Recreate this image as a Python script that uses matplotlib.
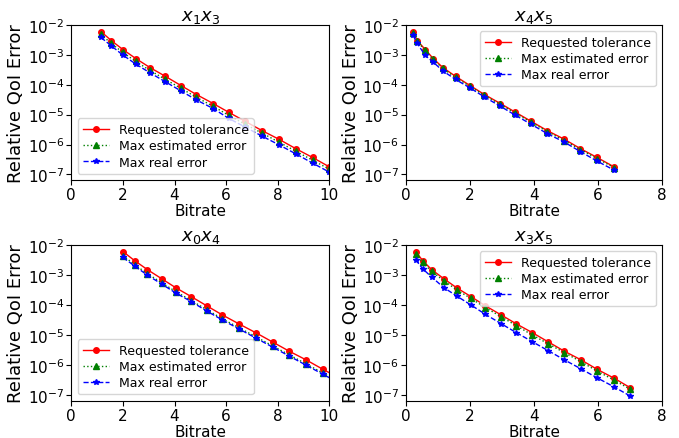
import numpy as np
import matplotlib
matplotlib.use('Agg')
import matplotlib.pyplot as plt

titles = ['$x_1x_3$', '$x_4x_5$', '$x_0x_4$', '$x_3x_5$']
xmax = [10, 8, 10, 8]
legend_loc = ['lower left', 'upper right', 'lower left', 'upper right']

tol = [6e-3, 3e-3, 1.5e-3, 7.5e-4, 3.75e-4, 1.9e-4, 9.4e-5, 4.7e-5, 2.35e-5,
       1.2e-5, 5.9e-6, 2.9e-6, 1.5e-6, 7.3e-7, 3.7e-7, 1.8e-7]

# x1x3
br_13 = [1.15, 1.55, 2.0, 2.5, 3.05, 3.65, 4.25, 4.85, 5.5, 6.1, 6.75, 7.4, 8.05, 8.7, 9.35, 10.0]
est_13 = [4.8e-3, 2.4e-3, 1.2e-3, 6.0e-4, 3.0e-4, 1.5e-4, 7.6e-5, 3.8e-5, 1.9e-5,
          9.5e-6, 4.7e-6, 2.4e-6, 1.2e-6, 6.0e-7, 3.0e-7, 1.5e-7]
real_13 = [3.8e-3, 2.0e-3, 9.8e-4, 4.9e-4, 2.5e-4, 1.25e-4, 6.2e-5, 3.1e-5, 1.6e-5,
           7.5e-6, 3.8e-6, 1.9e-6, 9.8e-7, 4.9e-7, 2.4e-7, 1.2e-7]

# x4x5
br_45 = [0.22, 0.35, 0.6, 0.85, 1.15, 1.55, 2.0, 2.45, 2.95, 3.42, 3.92, 4.42, 4.95, 5.45, 5.97, 6.5]
est_45 = [5.2e-3, 2.8e-3, 1.4e-3, 7.0e-4, 3.5e-4, 1.75e-4, 8.8e-5, 4.4e-5, 2.2e-5,
          1.1e-5, 5.5e-6, 2.7e-6, 1.35e-6, 6.8e-7, 3.4e-7, 1.7e-7]
real_45 = [4.5e-3, 2.4e-3, 9.5e-4, 5.7e-4, 2.9e-4, 1.5e-4, 7.8e-5, 3.9e-5, 1.9e-5,
           9.5e-6, 4.7e-6, 2.3e-6, 1.2e-6, 5.8e-7, 2.8e-7, 1.4e-7]

# x0x4
br_04 = [2.0, 2.45, 2.95, 3.5, 4.05, 4.65, 5.25, 5.85, 6.5, 7.15, 7.8, 8.45, 9.1, 9.75, 10.4, 11.05]
est_04 = [4.4e-3, 2.2e-3, 1.1e-3, 5.5e-4, 2.8e-4, 1.4e-4, 7.0e-5, 3.5e-5, 1.75e-5,
          8.8e-6, 4.4e-6, 2.2e-6, 1.1e-6, 5.5e-7, 2.7e-7, 1.35e-7]
real_04 = [3.8e-3, 2.0e-3, 9.8e-4, 5.0e-4, 2.5e-4, 1.3e-4, 6.3e-5, 3.2e-5, 1.6e-5,
           8.0e-6, 4.0e-6, 2.0e-6, 1.0e-6, 5.0e-7, 2.5e-7, 1.2e-7]

# x3x5
br_35 = [0.3, 0.52, 0.8, 1.18, 1.58, 2.03, 2.48, 2.97, 3.45, 3.95, 4.45, 4.95, 5.47, 5.97, 6.5, 7.0]
est_35 = [5.0e-3, 2.6e-3, 1.3e-3, 6.5e-4, 3.2e-4, 1.65e-4, 8.2e-5, 4.1e-5, 2.05e-5,
          1.0e-5, 5.1e-6, 2.6e-6, 1.3e-6, 6.4e-7, 3.2e-7, 1.6e-7]
real_35 = [3.2e-3, 1.6e-3, 8.5e-4, 3.8e-4, 2.0e-4, 1.0e-4, 4.9e-5, 2.4e-5, 1.2e-5,
           6.0e-6, 3.0e-6, 1.5e-6, 7.5e-7, 3.8e-7, 1.9e-7, 9.5e-8]

bitrates = [br_13, br_45, br_04, br_35]
estimated = [est_13, est_45, est_04, est_35]
real = [real_13, real_45, real_04, real_35]

fig = plt.figure(figsize=(6.79, 4.39), dpi=100)
boxes = [[0.105, 0.588, 0.380, 0.353], [0.598, 0.588, 0.377, 0.353],
         [0.105, 0.085, 0.380, 0.355], [0.598, 0.085, 0.377, 0.355]]

for i in range(4):
    ax = fig.add_axes(boxes[i])
    ax.plot(bitrates[i], tol, color='red', linestyle='-', marker='o', markersize=4,
            linewidth=1, label='Requested tolerance')
    ax.plot(bitrates[i], estimated[i], color='green', linestyle=':', marker='^', markersize=4,
            linewidth=1, label='Max estimated error')
    ax.plot(bitrates[i], real[i], color='blue', linestyle='--', marker='*', markersize=4,
            linewidth=1, label='Max real error')
    ax.set_yscale('log')
    ax.set_xlim(0, xmax[i])
    ax.set_ylim(6.6e-8, 1e-2)
    ax.set_yticks([1e-7, 1e-6, 1e-5, 1e-4, 1e-3, 1e-2])
    ax.minorticks_off()
    ax.tick_params(labelsize=11, pad=1.5)
    ax.set_title(titles[i], fontsize=13, pad=2)
    ax.set_xlabel('Bitrate', fontsize=11, labelpad=1)
    ax.set_ylabel('Relative QoI Error', fontsize=13, labelpad=2)
    ax.legend(loc=legend_loc[i], fontsize=9, labelspacing=0.25, handlelength=2.1,
              borderaxespad=0.5)

plt.savefig('out.png', dpi=100)
